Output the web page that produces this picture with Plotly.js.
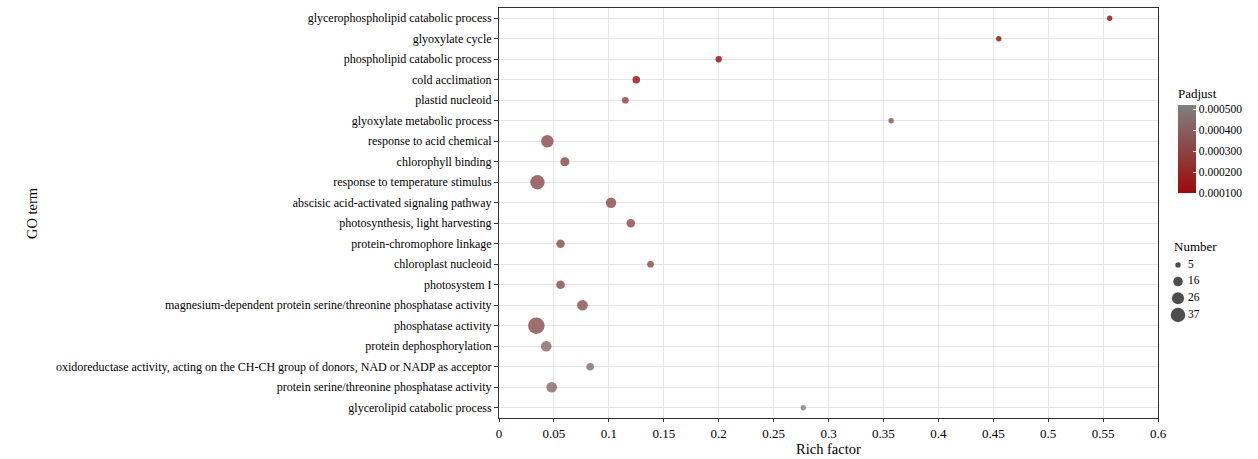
<!DOCTYPE html>
<html>
<head>
<meta charset="utf-8">
<script src="https://cdn.plot.ly/plotly-3.0.1.min.js"></script>
<style>
  html, body { margin: 0; padding: 0; background: #fff; }
  #chart { width: 1258px; height: 459px; }
</style>
</head>
<body>
<div id="chart"></div>
<script>
// GO enrichment terms, listed top to bottom
const goTerms = [
  "glycerophospholipid catabolic process",
  "glyoxylate cycle",
  "phospholipid catabolic process",
  "cold acclimation",
  "plastid nucleoid",
  "glyoxylate metabolic process",
  "response to acid chemical",
  "chlorophyll binding",
  "response to temperature stimulus",
  "abscisic acid-activated signaling pathway",
  "photosynthesis, light harvesting",
  "protein-chromophore linkage",
  "chloroplast nucleoid",
  "photosystem I",
  "magnesium-dependent protein serine/threonine phosphatase activity",
  "phosphatase activity",
  "protein dephosphorylation",
  "oxidoreductase activity, acting on the CH-CH group of donors, NAD or NADP as acceptor",
  "protein serine/threonine phosphatase activity",
  "glycerolipid catabolic process"
];

// Rich factor per term
const richFactor = [
  0.556, 0.455, 0.200, 0.125, 0.115, 0.357, 0.044, 0.060, 0.035, 0.102,
  0.120, 0.056, 0.138, 0.056, 0.076, 0.034, 0.043, 0.083, 0.048, 0.277
];

// Number of genes per term
const geneNumber = [
  5, 5, 7, 10, 8, 5, 27, 15, 36, 19,
  13, 13, 8, 13, 20, 48, 20, 10, 20, 5
];

// Adjusted p-value per term
const padjust = [
  0.000100, 0.000105, 0.000110, 0.000120, 0.000300, 0.000360, 0.000340, 0.000340, 0.000340, 0.000340,
  0.000340, 0.000340, 0.000340, 0.000340, 0.000350, 0.000340, 0.000440, 0.000450, 0.000440, 0.000520
];

// Colour bar ticks and size-legend breaks
const padjTicks = [0.0001, 0.0002, 0.0003, 0.0004, 0.0005];
const numberBreaks = [5, 16, 26, 37];

const serif = "Liberation Serif, Times New Roman, serif";
const maxDiameter = 16.5;
const sizeRef = 2 * Math.max(...geneNumber) / (maxDiameter * maxDiameter);
const colorScale = [[0, "#9A0A0A"], [1, "#808080"]];

// Pixel-based layout helpers
const W = 1258, H = 459;
const mL = 499, mR = 20, mT = 8, mB = 41;
const pw = W - mL - mR, ph = H - mT - mB;
const px = x => (x - mL) / pw;
const py = y => 1 - (y - mT) / ph;

const bubbles = {
  type: "scatter",
  mode: "markers",
  x: richFactor,
  y: goTerms,
  xaxis: "x",
  yaxis: "y",
  marker: {
    size: geneNumber,
    sizemode: "area",
    sizeref: sizeRef,
    color: padjust,
    colorscale: colorScale,
    opacity: 0.82,
    line: { width: 0 },
    showscale: true,
    colorbar: {
      title: { text: "Padjust", side: "top", font: { family: serif, size: 13, color: "#000" } },
      thickness: 18,
      len: 108,
      lenmode: "pixels",
      x: px(1178),
      xanchor: "left",
      y: py(139),
      yanchor: "middle",
      xpad: 0,
      ypad: 0,
      outlinewidth: 0,
      tickvals: padjTicks,
      tickformat: ".6f",
      ticks: "inside",
      tickcolor: "#fff",
      ticklen: 3,
      tickfont: { family: serif, size: 11.5, color: "#000" }
    }
  },
  hoverinfo: "x+y",
  showlegend: false
};

// Size key drawn on its own small axis pair, using the same bubble scaling
const sizeKey = {
  type: "scatter",
  mode: "markers",
  x: numberBreaks.map(() => 10),
  y: numberBreaks.map(String),
  xaxis: "x2",
  yaxis: "y2",
  marker: { size: numberBreaks, sizemode: "area", sizeref: sizeRef, color: "#000", line: { width: 0 } },
  hoverinfo: "skip",
  showlegend: false
};
const sizeKeyText = {
  type: "scatter",
  mode: "text",
  x: numberBreaks.map(() => 20),
  y: numberBreaks.map(String),
  text: numberBreaks.map(String),
  textposition: "middle right",
  textfont: { family: serif, size: 11.5, color: "#000" },
  xaxis: "x2",
  yaxis: "y2",
  hoverinfo: "skip",
  showlegend: false
};

const titleFont = { family: serif, size: 14.5, color: "#000" };

const layout = {
  width: W,
  height: H,
  margin: { l: mL, r: mR, t: mT, b: mB },
  paper_bgcolor: "#fff",
  plot_bgcolor: "#fff",
  font: { family: serif, size: 12, color: "#000" },
  showlegend: false,
  xaxis: {
    domain: [0, px(1158)],
    range: [0, 0.6],
    dtick: 0.05,
    tick0: 0,
    showgrid: true,
    gridcolor: "#E6E6E6",
    gridwidth: 1,
    zeroline: false,
    showline: true,
    mirror: true,
    linecolor: "#333",
    linewidth: 1,
    ticks: "outside",
    ticklen: 3,
    tickcolor: "#333",
    tickfont: { family: serif, size: 13, color: "#000" },
    automargin: false
  },
  yaxis: {
    type: "category",
    categoryorder: "array",
    categoryarray: goTerms,
    range: [goTerms.length - 0.5, -0.5],
    showgrid: true,
    gridcolor: "#E6E6E6",
    gridwidth: 1,
    zeroline: false,
    showline: true,
    mirror: true,
    linecolor: "#333",
    linewidth: 1,
    ticks: "outside",
    ticklen: 4,
    tickcolor: "#333",
    tickfont: { family: serif, size: 12, color: "#000" },
    automargin: false
  },
  xaxis2: {
    domain: [px(1168), px(1230)],
    range: [0, 62],
    anchor: "y2",
    visible: false,
    fixedrange: true
  },
  yaxis2: {
    domain: [py(326.5), py(258.5)],
    type: "category",
    categoryorder: "array",
    categoryarray: numberBreaks.map(String),
    autorange: "reversed",
    anchor: "x2",
    visible: false,
    fixedrange: true
  },
  annotations: [
    {
      text: "Number",
      xref: "paper", yref: "paper",
      x: px(1172), y: py(247),
      xanchor: "left", yanchor: "middle",
      showarrow: false,
      font: { family: serif, size: 13, color: "#000" }
    },
    {
      text: "Rich factor",
      xref: "paper", yref: "paper",
      x: px(828.5), y: py(449),
      xanchor: "center", yanchor: "middle",
      showarrow: false,
      font: titleFont
    },
    {
      text: "GO term",
      xref: "paper", yref: "paper",
      x: px(32), y: py(213),
      xanchor: "center", yanchor: "middle",
      textangle: -90,
      showarrow: false,
      font: titleFont
    }
  ]
};

Plotly.newPlot("chart", [bubbles, sizeKey, sizeKeyText], layout, { displayModeBar: false, staticPlot: true });
</script>
</body>
</html>
